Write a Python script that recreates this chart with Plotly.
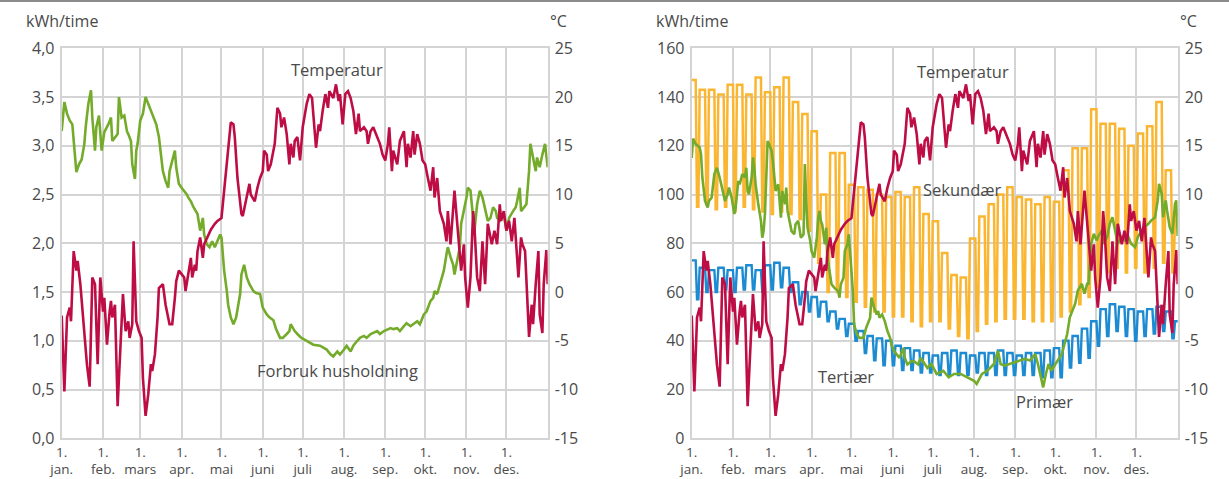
import plotly.graph_objects as go

# ---------------- data ----------------
month_start = [0, 31, 59, 90, 120, 151, 181, 212, 243, 273, 304, 334]
month_name = ["jan.", "feb.", "mars", "apr.", "mai", "juni", "juli",
              "aug.", "sep.", "okt.", "nov.", "des."]

# outdoor temperature, °C (day of year, value)
temp_day = [0, 2, 4, 6, 7, 9, 11, 12, 14, 17, 19, 21, 23, 25, 27, 29, 31, 32, 34, 36,
            37, 38, 40, 42, 43, 46, 48, 50, 51, 53, 54, 56, 58, 60, 61, 63, 65, 67, 68, 70,
            72, 73, 76, 78, 81, 83, 85, 86, 88, 90, 92, 93, 95, 97, 98, 100, 101, 102, 104, 106,
            107, 110, 112, 115, 117, 120, 121, 123, 125, 127, 129, 130, 132, 135, 136, 139, 141, 142, 145, 147,
            149, 151, 152, 154, 155, 157, 160, 162, 164, 165, 167, 169, 171, 172, 174, 175, 177, 179, 181, 184,
            186, 188, 190, 191, 193, 194, 196, 198, 200, 201, 204, 206, 208, 209, 211, 213, 215, 217, 219, 221,
            223, 224, 227, 229, 230, 232, 234, 237, 239, 241, 243, 245, 246, 248, 249, 252, 254, 257, 259, 260,
            262, 264, 265, 267, 269, 271, 273, 275, 277, 279, 280, 282, 284, 287, 289, 290, 292, 295, 297, 299,
            300, 302, 303, 305, 307, 309, 310, 312, 314, 316, 318, 320, 321, 323, 325, 327, 329, 330, 332, 334,
            336, 338, 340, 342, 343, 345, 346, 348, 349, 351, 353, 354, 356, 358, 359, 361, 362, 364, 365]
temp_val = [-2.4, -10.2, -2.6, -1.6, -3.0, 4.2, 2.2, 3.2, 0.8, -4.3, -7.5, -9.7, 1.5, 0.8, -7.4, 1.5, -2.0, -0.6, -5.4, -2.0,
            -0.9, -2.6, -1.3, -11.7, -8.8, -0.2, -4.0, -3.0, -4.7, -3.3, 5.2, -3.0, -4.0, -4.7, -8.8, -12.7, -10.5, -7.4, -8.1, -6.4,
            -2.6, 0.4, 0.8, -1.3, -3.3, -3.3, -0.6, 1.1, 2.2, 1.8, 1.5, 0.1, 1.8, 3.5, 1.5, 2.8, 2.2, 4.2, 5.6, 3.5,
            4.9, 5.9, 6.4, 7.0, 7.3, 7.6, 9.0, 11.7, 14.8, 17.4, 17.2, 15.9, 11.7, 8.0, 7.8, 10.0, 11.1, 10.0, 9.3, 10.7,
            11.7, 12.4, 14.5, 14.1, 12.4, 13.1, 15.2, 18.9, 18.3, 16.9, 17.9, 16.2, 13.1, 15.2, 13.8, 15.5, 15.9, 13.5, 16.9, 19.3,
            20.3, 19.9, 16.5, 14.8, 17.2, 16.5, 18.6, 20.3, 18.9, 20.6, 19.9, 21.3, 19.6, 20.3, 17.2, 20.3, 20.6, 19.9, 18.6, 16.2,
            18.3, 16.5, 16.9, 16.5, 15.2, 16.5, 16.9, 15.9, 15.2, 14.1, 13.5, 15.2, 16.9, 12.4, 14.5, 13.1, 15.5, 16.5, 12.8, 15.2,
            13.8, 16.5, 14.1, 16.2, 15.2, 13.5, 13.1, 11.7, 10.4, 12.8, 9.7, 11.7, 8.3, 7.0, 5.2, 8.3, 4.9, 10.4, 7.3, 4.2,
            2.2, 4.9, 1.5, -1.6, 1.5, 8.3, 6.6, 1.5, 0.1, 5.2, 0.8, 7.0, 6.3, 4.9, 6.3, 4.9, 9.0, 7.3, 8.3, 6.3,
            7.3, 5.2, 7.6, 3.5, 1.5, 5.6, 4.9, 4.2, 1.5, -4.6, -1.3, -3.3, 0.8, 4.2, -2.3, -4.2, 0.8, 4.3, 0.8]

# household consumption, kWh/time
forbruk_day = [0, 2, 4, 6, 8, 10, 11, 13, 15, 17, 18, 20, 22, 23, 25, 26, 28, 30, 32, 35,
               37, 38, 40, 42, 43, 45, 47, 49, 50, 52, 53, 55, 56, 57, 59, 61, 63, 65, 67, 68,
               70, 71, 73, 74, 76, 78, 80, 81, 83, 85, 86, 88, 90, 92, 94, 95, 97, 99, 101, 102,
               104, 106, 107, 109, 111, 113, 115, 117, 119, 120, 121, 122, 124, 125, 127, 129, 131, 134, 135, 137,
               139, 141, 144, 146, 149, 151, 154, 156, 159, 161, 164, 166, 169, 171, 172, 175, 177, 180, 184, 189,
               194, 199, 202, 204, 207, 209, 212, 214, 217, 219, 222, 224, 227, 229, 232, 237, 239, 242, 247, 249,
               252, 254, 257, 259, 262, 264, 267, 269, 272, 274, 277, 279, 280, 282, 284, 287, 289, 290, 292, 294,
               295, 297, 299, 300, 302, 304, 305, 307, 308, 309, 310, 312, 314, 316, 318, 320, 322, 324, 326, 327,
               329, 332, 334, 336, 339, 341, 342, 344, 345, 347, 349, 351, 352, 354, 356, 357, 359, 361, 363, 365]
forbruk_val = [3.15, 3.45, 3.33, 3.26, 3.22, 2.91, 2.73, 2.81, 2.86, 3.02, 3.19, 3.43, 3.57, 3.29, 2.95, 3.19, 3.31, 2.95, 3.14, 3.22,
               3.29, 3.05, 3.09, 3.12, 3.50, 3.29, 3.31, 3.15, 3.12, 3.05, 2.81, 2.66, 2.95, 3.02, 3.26, 3.33, 3.50, 3.43, 3.36, 3.31,
               3.26, 3.22, 3.09, 2.95, 2.74, 2.64, 2.57, 2.74, 2.85, 2.95, 2.78, 2.61, 2.57, 2.54, 2.50, 2.47, 2.43, 2.37, 2.33, 2.30,
               2.13, 2.26, 2.09, 1.99, 1.96, 2.02, 1.96, 2.02, 2.09, 2.06, 1.89, 1.72, 1.51, 1.37, 1.24, 1.17, 1.24, 1.48, 1.68, 1.78,
               1.65, 1.58, 1.51, 1.49, 1.48, 1.34, 1.27, 1.24, 1.21, 1.12, 1.03, 1.03, 1.07, 1.10, 1.17, 1.10, 1.07, 1.03, 1.00, 0.96,
               0.95, 0.91, 0.86, 0.84, 0.89, 0.86, 0.91, 0.95, 0.89, 0.95, 1.00, 1.03, 1.05, 1.03, 1.07, 1.10, 1.07, 1.10, 1.13, 1.12,
               1.13, 1.10, 1.15, 1.18, 1.15, 1.17, 1.20, 1.17, 1.27, 1.30, 1.41, 1.44, 1.51, 1.48, 1.58, 1.72, 1.89, 1.96, 1.86, 1.78,
               1.68, 1.82, 1.96, 2.20, 2.33, 2.47, 2.57, 2.54, 2.40, 2.26, 2.13, 2.40, 2.54, 2.47, 2.33, 2.23, 2.26, 2.37, 2.33, 2.26,
               2.23, 2.30, 2.13, 2.26, 2.33, 2.37, 2.43, 2.57, 2.33, 2.37, 2.40, 2.74, 3.02, 2.88, 2.74, 2.88, 2.78, 2.91, 3.02, 2.78]

# primary industry, kWh/time
primaer_day = [0, 1, 3, 6, 7, 8, 10, 12, 13, 15, 17, 19, 21, 23, 25, 27, 28, 30, 32, 33,
               35, 36, 38, 40, 41, 42, 43, 45, 46, 47, 48, 50, 52, 53, 54, 55, 57, 58, 60, 61,
               62, 63, 65, 66, 67, 68, 70, 71, 72, 73, 75, 77, 78, 80, 81, 82, 84, 85, 86, 87,
               89, 90, 92, 94, 95, 96, 97, 98, 100, 101, 102, 104, 105, 107, 110, 111, 112, 114, 115, 117,
               118, 120, 121, 122, 124, 126, 129, 131, 134, 135, 137, 139, 140, 141, 143, 145, 147, 149, 150, 152,
               154, 156, 159, 160, 162, 165, 167, 170, 172, 175, 177, 180, 184, 189, 193, 197, 202, 207, 212, 214,
               218, 222, 227, 230, 232, 235, 239, 243, 247, 250, 254, 258, 260, 263, 264, 266, 268, 270, 273, 275,
               278, 280, 282, 284, 286, 288, 290, 293, 295, 297, 298, 300, 302, 304, 305, 308, 309, 312, 314, 316,
               318, 320, 323, 325, 328, 330, 333, 335, 338, 340, 343, 345, 348, 350, 351, 353, 354, 356, 357, 359,
               361, 363, 364, 365]
primaer_val = [115, 123, 120.7, 119.3, 116.6, 107, 97.4, 94.7, 97.4, 98.8, 108.4, 111, 107, 101.5, 97.4, 100.1, 102.9, 98.8, 92, 94.7,
               105.6, 104.2, 108.4, 107, 111, 101.5, 100.1, 107, 115.2, 111, 104.2, 96, 89.2, 82.3, 85, 92, 122, 120.7, 118, 113.8,
               107, 101.5, 104.2, 97.4, 90.5, 101.5, 96, 102.9, 93.3, 90.5, 85, 83.7, 87.8, 89.2, 85, 82.3, 83.7, 112.5, 97.4, 86.4,
               81, 76.8, 74.1, 82.3, 90.5, 93.3, 89.2, 87.8, 79.6, 86.4, 74.1, 67.3, 63.2, 61.8, 60.4, 57.7, 63.2, 65.9, 76.8, 79.6,
               83.7, 68.6, 60.4, 46.7, 42.6, 41.2, 41.2, 45.3, 49.5, 57.7, 53.6, 50.8, 52.2, 49.5, 50.8, 48.1, 44, 41.2, 38.5, 35.8,
               34.4, 33, 37.1, 33, 30.3, 31.6, 31.6, 30.3, 33, 30.3, 28.9, 30.5, 26.4, 27.7, 25, 26.4, 26.4, 25, 23.6, 22.3,
               26.4, 27.7, 30.5, 35.9, 30.5, 29.8, 30.5, 31.2, 31.9, 32.6, 31.9, 34.6, 30.5, 23.6, 20.9, 26.4, 30.5, 27.7, 30.5, 31.9,
               34.6, 38.7, 42.8, 49.7, 52.5, 55.2, 60.6, 63.4, 59.3, 63.4, 63.4, 79.8, 83.9, 81.2, 82.5, 85.3, 79.8, 82.5, 88, 90.7,
               85.3, 79.8, 82.5, 81.2, 82.5, 79.8, 78.4, 82.5, 85.3, 86.6, 88, 89.3, 90.7, 97.6, 104.4, 100.3, 90.7, 97.6, 93.5, 86.6,
               83.9, 96.2, 97.6, 83]

# secondary and tertiary industry, weekly levels (weekdays / weekend), kWh/time
sekundaer_hverdag = [147, 143, 143, 141, 145, 145, 141, 148, 142, 144, 148, 138, 133, 126, 100, 117, 117, 104, 103, 102,
                     100, 99, 101, 99, 103, 92, 89, 76, 67, 66, 82, 91, 96, 100, 103, 99, 98, 96, 99, 97,
                     110, 119, 119, 135, 129, 129, 127, 120, 125, 128, 138, 110, 92]
sekundaer_helg = [95, 96, 94, 95, 93, 95, 94, 93, 92, 93, 92, 90, 85, 72, 60, 60, 58, 56, 54, 52,
                  52, 50, 50, 48, 46, 48, 48, 45, 42, 41, 44, 47, 48, 49, 49, 49, 48, 48, 48, 50,
                  52, 55, 58, 62, 68, 70, 68, 70, 68, 70, 72, 68, 80]
tertiaer_hverdag = [73, 70, 69, 70, 69, 70, 71, 69, 71, 72, 70, 64, 60, 58, 56, 52, 49, 47, 44, 42,
                    41, 40, 38, 37, 36, 35, 34, 35, 36, 35, 34, 35, 35, 36, 35, 34, 35, 35, 36, 37,
                    40, 42, 45, 48, 53, 55, 54, 53, 52, 53, 54, 52, 48]
tertiaer_helg = [57, 60, 60, 61, 60, 61, 61, 60, 61, 62, 60, 55, 52, 50, 48, 45, 42, 40, 35, 32,
                 30, 30, 28, 28, 27, 27, 26, 26, 26, 26, 27, 26, 26, 26, 26, 26, 26, 25, 25, 25,
                 29, 31, 33, 38, 42, 44, 42, 40, 42, 43, 44, 41, 44]


def weekly_profile(weekday, weekend):
    """Mon-Fri at the weekday level, Sat-Sun at the weekend level."""
    xs, ys = [], []
    for w, (hi, lo) in enumerate(zip(weekday, weekend)):
        xs += [7 * w - 1, 7 * w + 3, 7 * w + 4, 7 * w + 5]
        ys += [hi, hi, lo, lo]
    return xs, ys


sek_x, sek_y = weekly_profile(sekundaer_hverdag, sekundaer_helg)
ter_x, ter_y = weekly_profile(tertiaer_hverdag, tertiaer_helg)

# ---------------- styling ----------------
W, H = 1229, 479
RED = "#be0c45"
GREEN = "#74ab2b"
YELLOW = "#fbb631"
BLUE = "#1c8bd2"
GRID = "#d4d4d4"
TEXT = "#4a4a4a"
FONT = "Open Sans"

PLOT_TOP, PLOT_BOTTOM = 48.3, 438.3
LEFT_X = (61.7, 547.7)
RIGHT_X = (691.7, 1177.7)

ydom = [1 - PLOT_BOTTOM / H, 1 - PLOT_TOP / H]


def px_x(x):
    return x / W


def px_y(y):
    return 1 - y / H


fig = go.Figure()

fig.add_trace(go.Scatter(x=forbruk_day, y=forbruk_val, xaxis="x", yaxis="y",
                         mode="lines", line=dict(color=GREEN, width=2.6)))
fig.add_trace(go.Scatter(x=temp_day, y=temp_val, xaxis="x", yaxis="y2",
                         mode="lines", line=dict(color=RED, width=2.6)))

fig.add_trace(go.Scatter(x=sek_x, y=sek_y, xaxis="x2", yaxis="y3",
                         mode="lines", line=dict(color=YELLOW, width=2.5)))
fig.add_trace(go.Scatter(x=ter_x, y=ter_y, xaxis="x2", yaxis="y3",
                         mode="lines", line=dict(color=BLUE, width=2.4)))
fig.add_trace(go.Scatter(x=primaer_day, y=primaer_val, xaxis="x2", yaxis="y3",
                         mode="lines", line=dict(color=GREEN, width=2.6)))
fig.add_trace(go.Scatter(x=temp_day, y=temp_val, xaxis="x2", yaxis="y4",
                         mode="lines", line=dict(color=RED, width=2.6)))

tick_font = dict(family=FONT, size=16, color=TEXT)
temp_ticks = list(range(-15, 26, 5))
temp_text = [str(t) for t in temp_ticks]
month_text = ["1.<br>" + m for m in month_name]


def x_axis(dom, anchor):
    return dict(domain=[px_x(dom[0]), px_x(dom[1])], anchor=anchor, range=[0, 365],
                tickmode="array", tickvals=month_start, ticktext=month_text,
                showgrid=True, gridcolor=GRID, gridwidth=2, zeroline=False,
                showline=True, mirror=True, linecolor=GRID, linewidth=2,
                ticks="", tickfont=dict(family=FONT, size=13.5, color=TEXT),
                ticklabelstandoff=0, automargin=False, fixedrange=True)


def y_axis(anchor, rng, vals, fmt):
    return dict(domain=ydom, anchor=anchor, range=rng, tickmode="array", tickvals=vals,
                tickformat=fmt, showgrid=True, gridcolor=GRID, gridwidth=2, zeroline=False,
                showline=True, mirror=True, linecolor=GRID, linewidth=2,
                ticks="", tickfont=tick_font, ticklabelstandoff=2, automargin=False)


def temp_axis(over, anchor):
    return dict(overlaying=over, anchor=anchor, side="right", range=[-15, 25],
                tickmode="array", tickvals=temp_ticks, ticktext=temp_text,
                showgrid=False, zeroline=False, showline=False, ticks="",
                tickfont=tick_font, ticklabelstandoff=6, automargin=False)


fig.update_layout(
    width=W, height=H, margin=dict(l=0, r=0, t=0, b=0),
    paper_bgcolor="white", plot_bgcolor="white",
    separators=",.", showlegend=False, template="none",
    font=dict(family=FONT, color=TEXT),
    xaxis=x_axis(LEFT_X, "y"),
    yaxis=y_axis("x", [0, 4], [i * 0.5 for i in range(9)], ".1f"),
    yaxis2=temp_axis("y", "x"),
    xaxis2=x_axis(RIGHT_X, "y3"),
    yaxis3=y_axis("x2", [0, 160], list(range(0, 161, 20)), "d"),
    yaxis4=temp_axis("y3", "x2"),
)

ann = []
# unit labels
for cx, txt in ((62, "kWh/time"), (558, "°C"), (692, "kWh/time"), (1188, "°C")):
    ann.append(dict(x=px_x(cx), y=px_y(21), xref="paper", yref="paper", text=txt,
                    showarrow=False, font=dict(family=FONT, size=16, color=TEXT),
                    xanchor="center", yanchor="middle"))

# series labels, placed in data coordinates
lab_font = dict(family=FONT, size=16.5, color=TEXT)
for x, y, xr, yr, txt in ((207, 22.8, "x", "y2", "Temperatur"),
                          (207, 0.70, "x", "y", "Forbruk husholdning"),
                          (204, 22.6, "x2", "y4", "Temperatur"),
                          (203, 102, "x2", "y3", "Sekundær"),
                          (116, 25.2, "x2", "y3", "Tertiær"),
                          (265, 14.9, "x2", "y3", "Primær")):
    ann.append(dict(x=x, y=y, xref=xr, yref=yr, text=txt, showarrow=False,
                    font=lab_font, xanchor="center", yanchor="middle"))

fig.update_layout(annotations=ann)

# thin rule along the top edge
fig.add_shape(type="line", xref="paper", yref="paper", x0=0, x1=1,
              y0=px_y(1), y1=px_y(1), line=dict(color="#8c8c8c", width=2))

fig.write_html("out.html")
